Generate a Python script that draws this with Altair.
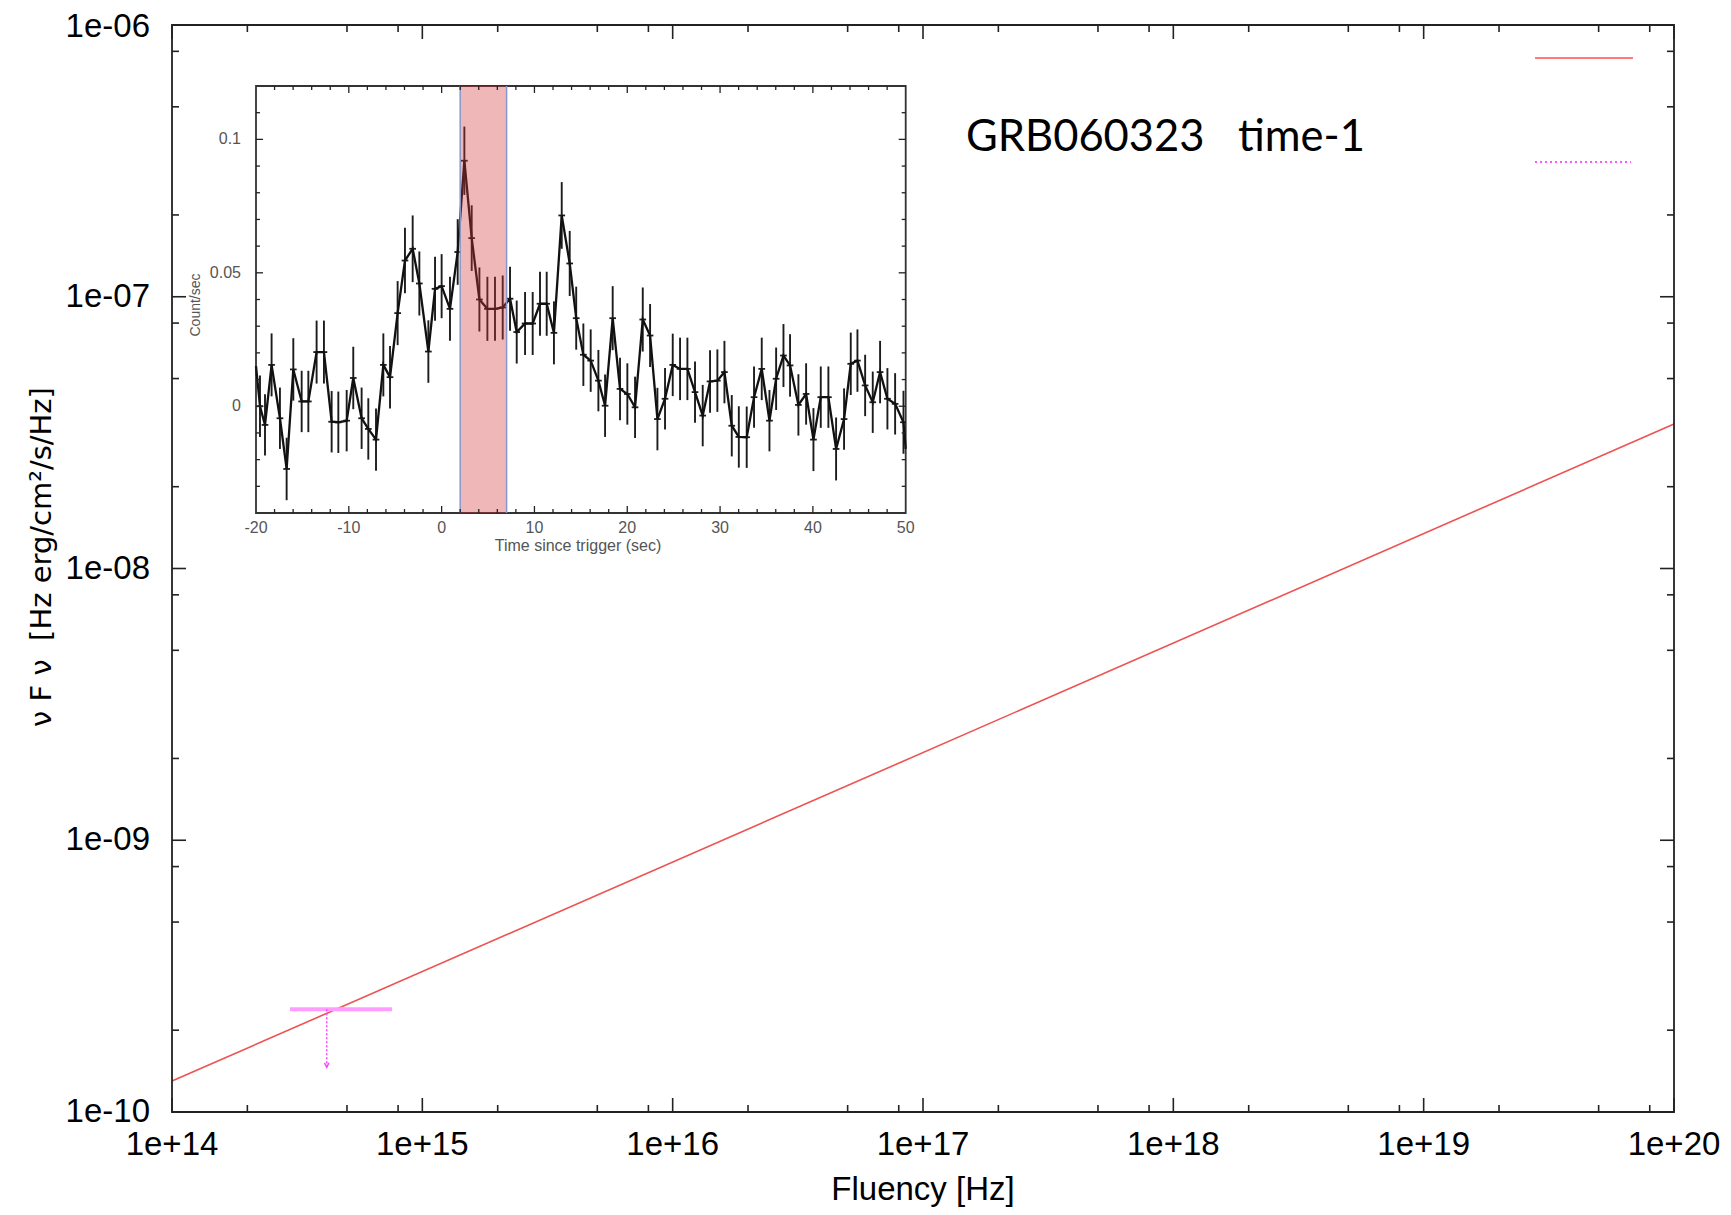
import altair as alt
import pandas as pd

# ---------------- data ----------------
# main panel: model line (nu F nu versus frequency)
model_nu = [1e14, 1e20]
model_flux = [1.3e-10, 3.4e-8]

# optical upper limit (bar + downward arrow)
ul_nu_lo = [2.96e14]
ul_nu_hi = [7.57e14]
ul_nu = [4.15e14]
ul_flux = [2.39e-10]
ul_arrow_to = [1.46e-10]

# main axis ticks and tick labels
x_major = [1e14, 1e15, 1e16, 1e17, 1e18, 1e19, 1e20]
x_tick_labels = ["1e+14", "1e+15", "1e+16", "1e+17", "1e+18", "1e+19", "1e+20"]
y_major = [1e-10, 1e-09, 1e-08, 1e-07, 1e-06]
y_tick_labels = ["1e-10", "1e-09", "1e-08", "1e-07", "1e-06"]
minor_mult = [2, 5, 8]

# inset light curve
lc_time = [-19.57, -19.03, -18.32, -17.42, -16.70, -15.98, -15.08, -14.36, -13.47, -12.68,
           -11.85, -11.13, -10.23, -9.52, -8.62, -7.90, -7.07, -6.28, -5.56, -4.74,
           -3.95, -3.12, -2.40, -1.43, -0.71, 0.00, 0.90, 1.73, 2.45, 3.24,
           4.07, 4.93, 5.75, 6.58, 7.37, 8.09, 8.99, 9.81, 10.60, 11.32,
           12.10, 12.94, 13.80, 14.50, 15.27, 16.06, 16.89, 17.61, 18.43, 19.22,
           20.01, 20.84, 21.67, 22.46, 23.25, 24.07, 24.90, 25.69, 26.48, 27.30,
           28.13, 28.92, 29.71, 30.47, 31.26, 32.02, 32.87, 33.66, 34.49, 35.32,
           36.04, 36.83, 37.54, 38.44, 39.27, 40.06, 40.85, 41.67, 42.50, 43.36,
           44.08, 44.80, 45.63, 46.45, 47.24, 48.03, 48.86, 49.76]
lc_rate = [0.000, -0.007, 0.0155, -0.0045, -0.0235, 0.0138, 0.0018, 0.0018, 0.0203, 0.0203,
           -0.0058, -0.006, -0.0054, 0.0106, -0.0045, -0.0085, -0.0125, 0.0155, 0.0109, 0.0349,
           0.0546, 0.059, 0.046, 0.0205, 0.044, 0.045, 0.0365, 0.0578, 0.092, 0.063,
           0.040, 0.0365, 0.0365, 0.037, 0.0403, 0.0278, 0.031, 0.031, 0.0384, 0.0384,
           0.0275, 0.0715, 0.0535, 0.033, 0.0193, 0.0171, 0.0096, 0.0002, 0.033, 0.0065,
           0.0046, -0.0004, 0.0325, 0.0265, -0.0048, 0.0028, 0.0155, 0.014, 0.014, 0.0053,
           -0.0035, 0.0093, 0.0096, 0.0128, -0.0073, -0.0115, -0.0116, 0.0034, 0.014, -0.0054,
           0.0103, 0.019, 0.0153, 0.0005, 0.0046, -0.0125, 0.0034, 0.0034, -0.016, -0.0048,
           0.0159, 0.0171, 0.0078, 0.0015, 0.0128, 0.0028, 0.0009, -0.006]
lc_err = [0.0115, 0.0115, 0.0118, 0.0115, 0.0117, 0.0117, 0.0115, 0.0115, 0.0118, 0.0118,
          0.0115, 0.0115, 0.0115, 0.0117, 0.0115, 0.0115, 0.0117, 0.0118, 0.0117, 0.0120,
          0.0123, 0.0125, 0.0120, 0.0117, 0.0120, 0.0120, 0.0120, 0.0123, 0.0128, 0.0123,
          0.0120, 0.0120, 0.0120, 0.0120, 0.0120, 0.0118, 0.0118, 0.0118, 0.0120, 0.0120,
          0.0118, 0.0125, 0.0122, 0.0118, 0.0117, 0.0117, 0.0115, 0.0117, 0.0120, 0.0117,
          0.0115, 0.0115, 0.0120, 0.0118, 0.0117, 0.0115, 0.0117, 0.0117, 0.0117, 0.0115,
          0.0115, 0.0117, 0.0117, 0.0117, 0.0115, 0.0115, 0.0115, 0.0115, 0.0117, 0.0115,
          0.0117, 0.0118, 0.0117, 0.0115, 0.0115, 0.0118, 0.0115, 0.0115, 0.0118, 0.0115,
          0.0117, 0.0117, 0.0115, 0.0115, 0.0117, 0.0115, 0.0115, 0.0118]
lc_edge_time = [-20.0, 50.0]
lc_edge_rate = [0.015, -0.016]
band_start = [2.0]
band_end = [7.0]
inset_x_ticks = [-20, -10, 0, 10, 20, 30, 40, 50]
inset_x_labels = ["-20", "-10", "0", "10", "20", "30", "40", "50"]
inset_y_ticks = [0, 0.05, 0.1]
inset_y_labels = ["0", "0.05", "0.1"]

title_text = "GRB060323\u00a0\u00a0\u00a0time-1"
x_title = "Fluency [Hz]"
y_title = "\u03bd\u00a0F\u00a0\u03bd\u00a0\u00a0[Hz erg/cm\u00b2/s/Hz]"
inset_x_title = "Time since trigger (sec)"
inset_y_title = "Count/sec"

# ---------------- layout ----------------
W, H = 1502, 1087
PAD = {"left": 164, "top": 17, "right": 49, "bottom": 95}
IL, IR, IT, IB = 84, 733.7, 61, 488          # inset box, plot-area pixels
FONT = "Liberation Sans"
TICK = "#222222"
INSET_TXT = "#555555"

xs = alt.Scale(type="log", domain=[1e14, 1e20], nice=False)
ys = alt.Scale(type="log", domain=[1e-10, 1e-6], nice=False)
xi = alt.Scale(domain=[-20, 50], range=[IL, IR], nice=False, zero=False)
yi = alt.Scale(domain=[-0.04, 0.12], range=[IB, IT], nice=False, zero=False)

dummy = pd.DataFrame({"a": [0]})

# ---------------- main panel ----------------
model_df = pd.DataFrame({"nu": model_nu, "f": model_flux})
model = alt.Chart(model_df).mark_line(color="#ee5252", strokeWidth=1.6).encode(
    x=alt.X("nu:Q", scale=xs, axis=None),
    y=alt.Y("f:Q", scale=ys, axis=None))

ul_df = pd.DataFrame({"lo": ul_nu_lo, "hi": ul_nu_hi, "nu": ul_nu,
                      "f": ul_flux, "f2": ul_arrow_to})
ul_bar = alt.Chart(ul_df).mark_rule(color="#ff9cff", strokeWidth=4).encode(
    x=alt.X("lo:Q", scale=xs, axis=None), x2="hi:Q",
    y=alt.Y("f:Q", scale=ys, axis=None))
ul_arrow = alt.Chart(ul_df).mark_rule(color="#ff44ff", strokeWidth=1.5,
                                      strokeDash=[2, 2]).encode(
    x=alt.X("nu:Q", scale=xs, axis=None),
    y=alt.Y("f:Q", scale=ys, axis=None), y2="f2:Q")
ul_head = alt.Chart(ul_df).mark_point(shape="M-0.8,-1.6L0,0L0.8,-1.6", filled=False,
                                      size=30, color="#ff44ff", strokeWidth=1.5,
                                      opacity=1).encode(
    x=alt.X("nu:Q", scale=xs, axis=None),
    y=alt.Y("f2:Q", scale=ys, axis=None))

x_minor = [m * 10.0 ** k for k in range(14, 20) for m in minor_mult]
y_minor = [m * 10.0 ** k for k in range(-10, -6) for m in minor_mult]


def xtick_layers(vals, length, scale, top, bottom, width=1.6):
    df = pd.DataFrame({"v": vals})
    base = alt.Chart(df).mark_rule(color=TICK, strokeWidth=width)
    xe = alt.X("v:Q", scale=scale, axis=None)
    return [base.encode(x=xe, y=alt.value(bottom), y2=alt.value(bottom - length)),
            base.encode(x=xe, y=alt.value(top), y2=alt.value(top + length))]


def ytick_layers(vals, length, scale, left, right, width=1.6):
    df = pd.DataFrame({"v": vals})
    base = alt.Chart(df).mark_rule(color=TICK, strokeWidth=width)
    ye = alt.Y("v:Q", scale=scale, axis=None)
    return [base.encode(y=ye, x=alt.value(left), x2=alt.value(left + length)),
            base.encode(y=ye, x=alt.value(right), x2=alt.value(right - length))]


main_ticks = (xtick_layers(x_major, 14, xs, 0, H) + xtick_layers(x_minor, 7, xs, 0, H)
              + ytick_layers(y_major, 14, ys, 0, W) + ytick_layers(y_minor, 7, ys, 0, W))

# tick labels (positioned through the scales)
xlab = alt.Chart(pd.DataFrame({"v": x_major, "lab": x_tick_labels})).mark_text(
    font=FONT, fontSize=33, color="black", align="center", baseline="middle").encode(
    x=alt.X("v:Q", scale=xs, axis=None), y=alt.value(H + 33), text="lab:N")
ylab = alt.Chart(pd.DataFrame({"v": y_major[:-1], "lab": y_tick_labels[:-1]})).mark_text(
    font=FONT, fontSize=33, color="black", align="right", baseline="middle").encode(
    y=alt.Y("v:Q", scale=ys, axis=None), x=alt.value(-22), text="lab:N")
ylab_top = alt.Chart(pd.DataFrame({"v": y_major[-1:], "lab": y_tick_labels[-1:]})).mark_text(
    font=FONT, fontSize=33, color="black", align="right", baseline="middle", dy=2).encode(
    y=alt.Y("v:Q", scale=ys, axis=None), x=alt.value(-22), text="lab:N")
xtitle = alt.Chart(dummy).mark_text(text=x_title, font=FONT, fontSize=33, color="black",
                                    align="center", baseline="alphabetic").encode(
    x=alt.value(751), y=alt.value(1175))
ytitle = alt.Chart(dummy).mark_text(text=y_title, font="DejaVu Sans", fontSize=29,
                                    color="black", align="center", baseline="middle",
                                    angle=270).encode(
    x=alt.value(-130), y=alt.value(532))

frame = alt.Chart(dummy).mark_rect(fill="transparent", stroke="#222222",
                                   strokeWidth=1.8).encode(
    x=alt.value(0), x2=alt.value(W), y=alt.value(0), y2=alt.value(H))

key_red = alt.Chart(dummy).mark_rule(color="#ff7a7a", strokeWidth=2).encode(
    x=alt.value(1363), x2=alt.value(1461), y=alt.value(33))
key_mag = alt.Chart(dummy).mark_rule(color="#ff55ff", strokeWidth=2,
                                     strokeDash=[2, 3]).encode(
    x=alt.value(1363), x2=alt.value(1459), y=alt.value(137))

label = alt.Chart(dummy).mark_text(text=title_text, font="Lato", fontSize=43.5,
                                   align="left", baseline="alphabetic",
                                   color="black").encode(
    x=alt.value(794), y=alt.value(126))

main = alt.layer(model, ul_bar, ul_arrow, ul_head, *main_ticks, frame,
                 xlab, ylab, ylab_top, xtitle, ytitle, key_red, key_mag, label)

# ---------------- inset light curve ----------------
box_df = pd.DataFrame({"x0": [-20], "x1": [50], "y0": [-0.04], "y1": [0.12]})
inset_box = alt.Chart(box_df).mark_rect(fill="white", stroke="#333333",
                                        strokeWidth=1.8).encode(
    x=alt.X("x0:Q", scale=xi, axis=None), x2="x1:Q",
    y=alt.Y("y0:Q", scale=yi, axis=None), y2="y1:Q")

lc_df = pd.DataFrame({"t": lc_time, "v": lc_rate, "e": lc_err})
line_df = pd.DataFrame({"t": lc_edge_time[:1] + lc_time + lc_edge_time[1:],
                        "v": lc_edge_rate[:1] + lc_rate + lc_edge_rate[1:]})

err_bars = alt.Chart(lc_df).mark_rule(color="#1c1c1c", strokeWidth=1.9).transform_calculate(
    lo="datum.v - datum.e", hi="datum.v + datum.e").encode(
    x=alt.X("t:Q", scale=xi, axis=None),
    y=alt.Y("lo:Q", scale=yi, axis=None), y2="hi:Q")
cross = alt.Chart(lc_df).mark_rule(color="#1c1c1c", strokeWidth=1.8).transform_calculate(
    tl="max(datum.t - 0.36, -20)", tr="min(datum.t + 0.36, 50)").encode(
    x=alt.X("tl:Q", scale=xi, axis=None), x2="tr:Q",
    y=alt.Y("v:Q", scale=yi, axis=None))
lc_line = alt.Chart(line_df).mark_line(color="#111111", strokeWidth=2.3).encode(
    x=alt.X("t:Q", scale=xi, axis=None),
    y=alt.Y("v:Q", scale=yi, axis=None))

band_df = pd.DataFrame({"b0": band_start, "b1": band_end, "y0": [-0.04], "y1": [0.12]})
band = alt.Chart(band_df).mark_rect(color="#d43737", opacity=0.36).encode(
    x=alt.X("b0:Q", scale=xi, axis=None), x2="b1:Q",
    y=alt.Y("y0:Q", scale=yi, axis=None), y2="y1:Q")
edge_df = pd.DataFrame({"b": band_start + band_end, "y0": [-0.04, -0.04], "y1": [0.12, 0.12]})
band_edges = alt.Chart(edge_df).mark_rule(color="#8597cc", strokeWidth=1.5).encode(
    x=alt.X("b:Q", scale=xi, axis=None),
    y=alt.Y("y0:Q", scale=yi, axis=None), y2="y1:Q")

ix_major = [-10, 0, 10, 20, 30, 40]
ix_minor = [t for t in range(-18, 50, 2) if t % 10 != 0]
iy_major = [0.0, 0.05, 0.1]
iy_minor = [round(k * 0.01, 2) for k in range(-3, 12) if k % 5 != 0]

inset_ticks = (xtick_layers(ix_major, 7, xi, IT, IB, 1.3) + xtick_layers(ix_minor, 4, xi, IT, IB, 1.3)
               + ytick_layers(iy_major, 7, yi, IL, IR, 1.3) + ytick_layers(iy_minor, 4, yi, IL, IR, 1.3))

ixlab = alt.Chart(pd.DataFrame({"v": inset_x_ticks, "lab": inset_x_labels})).mark_text(
    font=FONT, fontSize=16, color=INSET_TXT, align="center", baseline="middle").encode(
    x=alt.X("v:Q", scale=xi, axis=None), y=alt.value(IB + 15), text="lab:N")
iylab = alt.Chart(pd.DataFrame({"v": inset_y_ticks, "lab": inset_y_labels})).mark_text(
    font=FONT, fontSize=16, color=INSET_TXT, align="right", baseline="middle").encode(
    y=alt.Y("v:Q", scale=yi, axis=None), x=alt.value(IL - 15), text="lab:N")
ixtitle = alt.Chart(dummy).mark_text(text=inset_x_title, font=FONT, fontSize=16,
                                     color=INSET_TXT, align="center",
                                     baseline="middle").encode(
    x=alt.value(406), y=alt.value(521))
iytitle = alt.Chart(dummy).mark_text(text=inset_y_title, font=FONT, fontSize=14,
                                     color=INSET_TXT, align="center", baseline="middle",
                                     angle=270).encode(
    x=alt.value(24), y=alt.value(280))

inset = alt.layer(inset_box, err_bars, cross, lc_line, band, band_edges, *inset_ticks,
                  ixlab, iylab, ixtitle, iytitle)

chart = alt.layer(main, inset).resolve_scale(
    x="independent", y="independent"
).properties(
    width=W, height=H,
    autosize=alt.AutoSizeParams(type="none"),
    padding=PAD,
).configure(background="white").configure_view(stroke="transparent", strokeWidth=0)

chart.save("out.html", embed_options={"renderer": "svg", "actions": False})
